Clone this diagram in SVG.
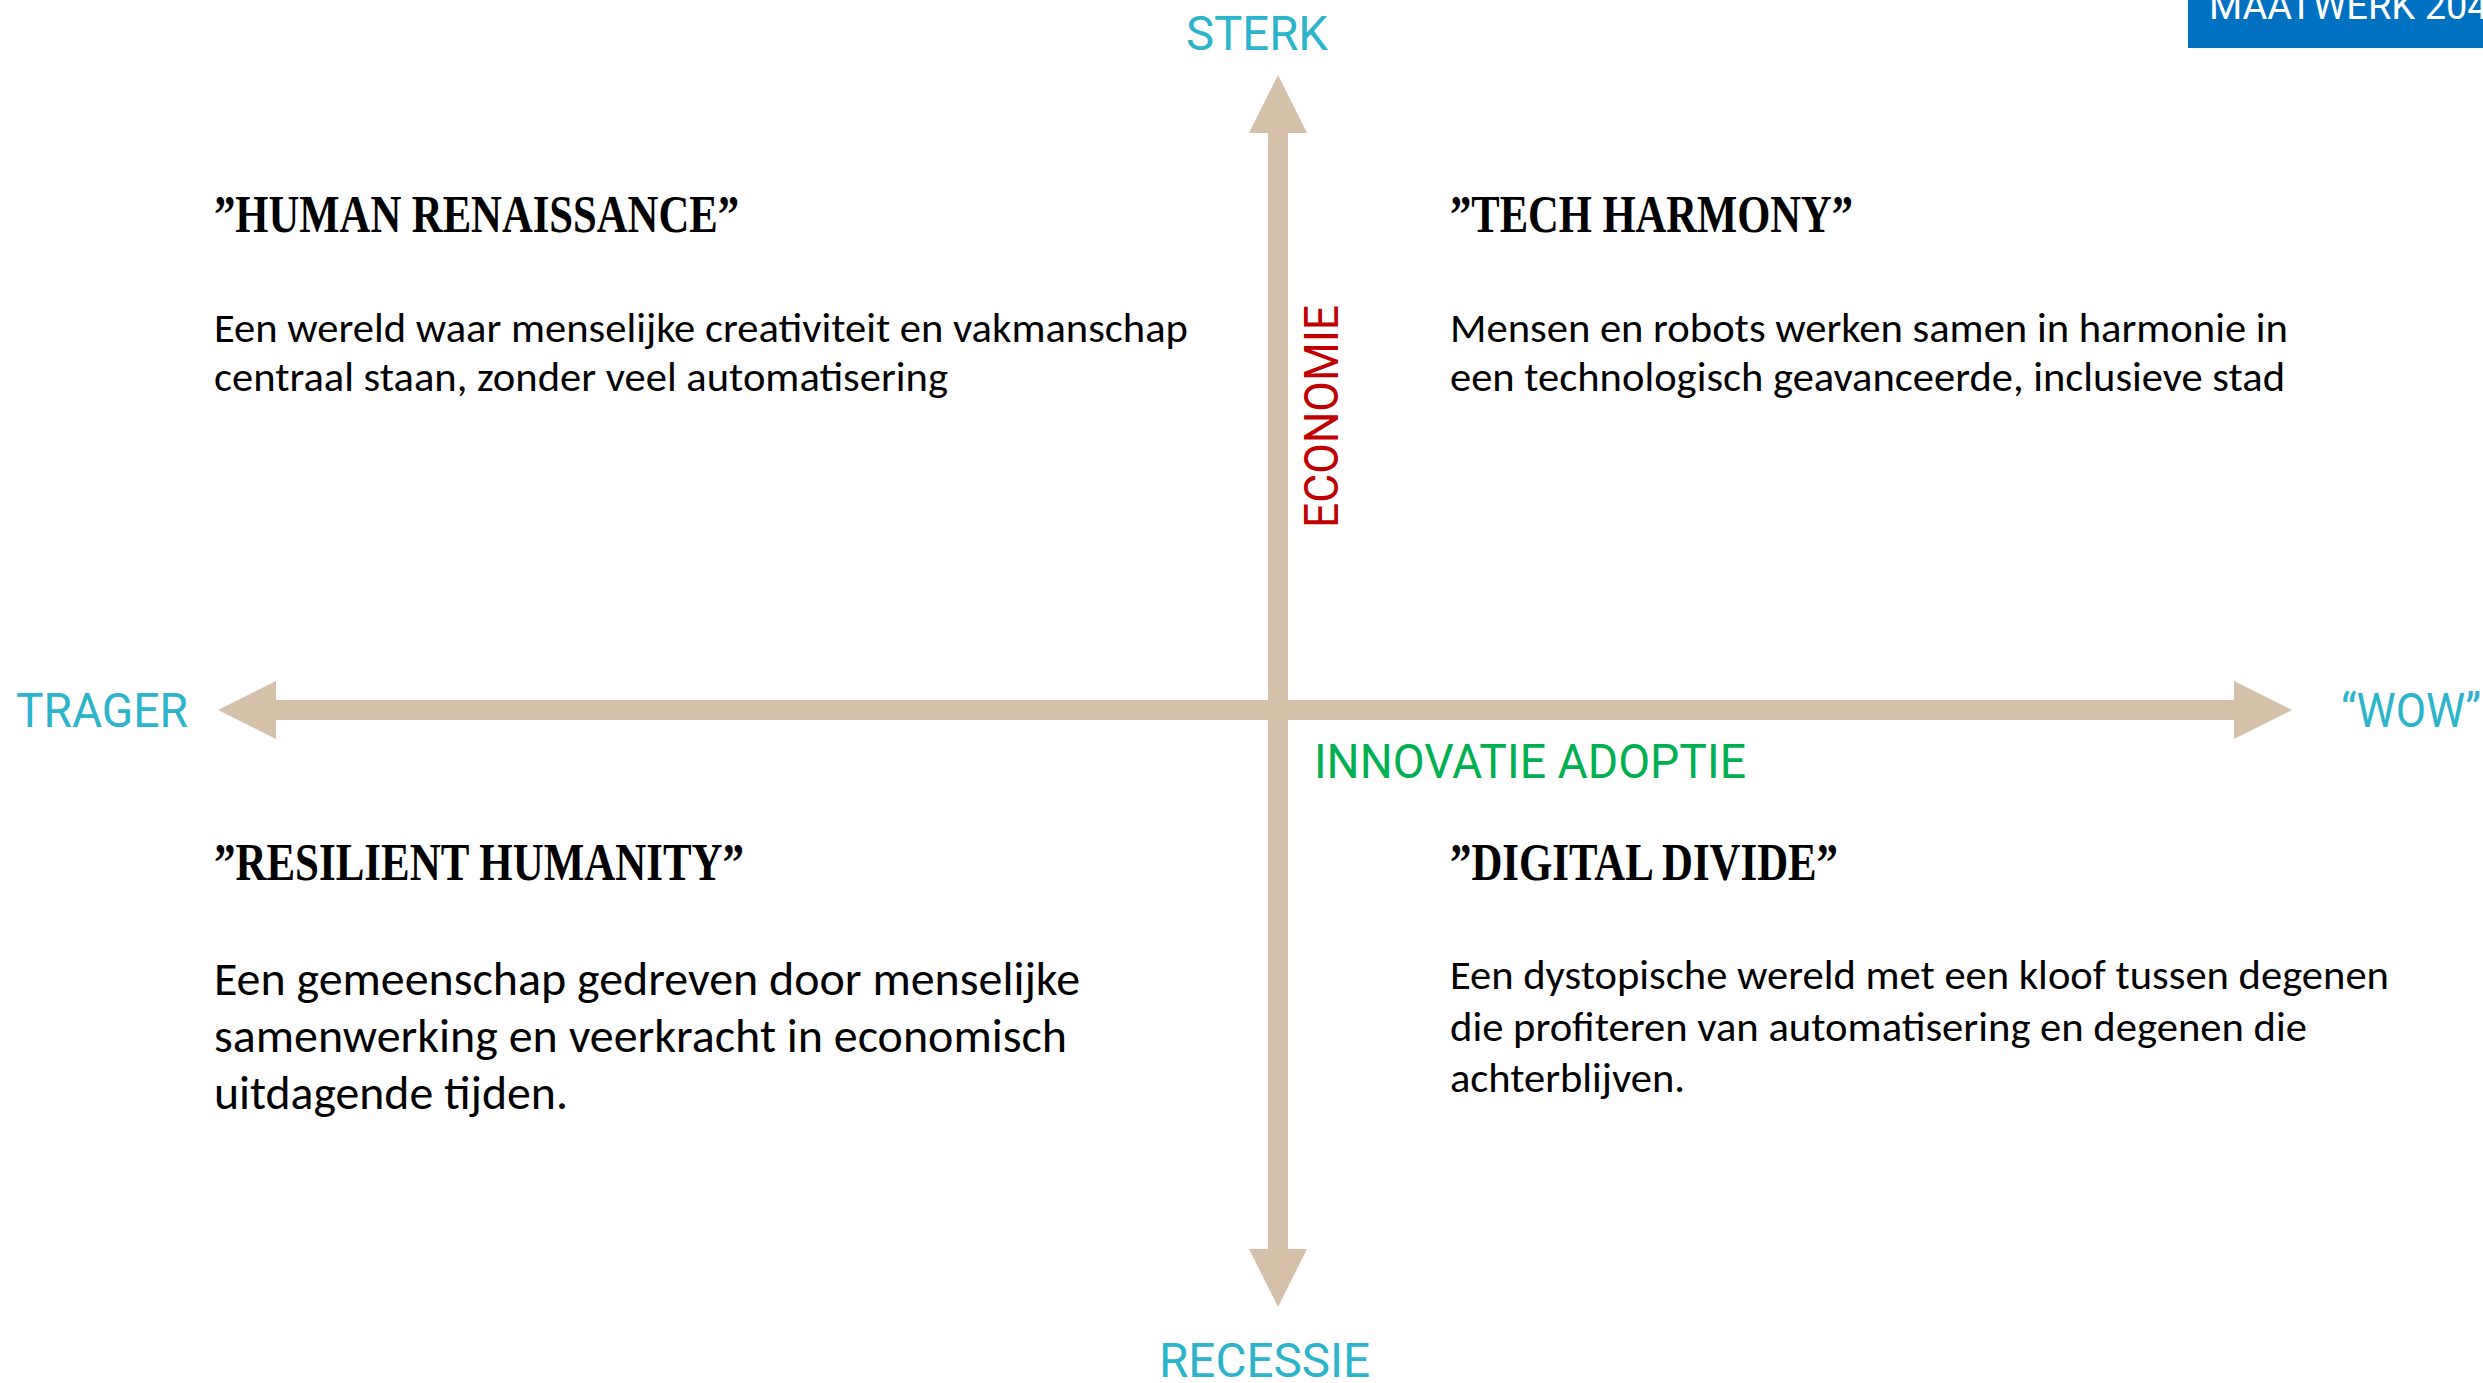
<svg xmlns="http://www.w3.org/2000/svg" width="2483" height="1383" viewBox="0 0 2483 1383">
<style>
.axis{font-family:Roboto,"DejaVu Sans",sans-serif;font-size:48px;fill:#2BB4CC}
.title{font-family:"Liberation Serif",serif;font-weight:bold;font-size:52px;fill:#000}
.body{font-family:Carlito,"Liberation Sans Narrow","Open Sans",sans-serif;font-size:42px;fill:#000}
.bodyL{font-family:Carlito,"Liberation Sans Narrow","Open Sans",sans-serif;font-size:48px;fill:#000}
.conn{stroke:#D5C1A9;stroke-width:20;fill:none}
</style>
<defs>
<marker id="head" markerUnits="userSpaceOnUse" markerWidth="58" markerHeight="58" refX="0" refY="29" orient="auto-start-reverse">
<path d="M0,0 L58,29 L0,58 Z" fill="#D5C1A9"/>
</marker>
</defs>
<rect width="2483" height="1383" fill="#fff"/>
<g id="connectors">
<line class="conn" x1="276" y1="710" x2="2234" y2="710" marker-start="url(#head)" marker-end="url(#head)"/>
<line class="conn" x1="1278" y1="1249" x2="1278" y2="133" marker-start="url(#head)" marker-end="url(#head)"/>
</g>
<g id="badge">
<rect x="2188" y="0" width="300" height="48" fill="#0070C0"/>
<text x="2209" y="19" style="font-family:Roboto,'DejaVu Sans',sans-serif;font-size:38px;fill:#fff">MAATWERK 2040</text>
</g>
<g id="axis-labels">
<text class="axis" x="1186" y="50" textLength="142" lengthAdjust="spacingAndGlyphs">STERK</text>
<text class="axis" x="16" y="727" textLength="172" lengthAdjust="spacingAndGlyphs">TRAGER</text>
<text class="axis" x="2341" y="727" textLength="140" lengthAdjust="spacingAndGlyphs">“WOW”</text>
<text class="axis" x="1159" y="1377" textLength="211" lengthAdjust="spacingAndGlyphs">RECESSIE</text>
<text x="1314" y="778" textLength="432" lengthAdjust="spacingAndGlyphs" style="font-family:Roboto,'DejaVu Sans',sans-serif;font-size:48px;fill:#00B050">INNOVATIE ADOPTIE</text>
<text transform="translate(1338,528) rotate(-90)" x="0" y="0" textLength="223" lengthAdjust="spacingAndGlyphs" style="font-family:Roboto,'DejaVu Sans',sans-serif;font-size:48px;fill:#C00000">ECONOMIE</text>
</g>
<g id="human-renaissance">
<text class="title" x="214" y="232" textLength="525" lengthAdjust="spacingAndGlyphs">”HUMAN RENAISSANCE”</text>
<text class="body" x="214" y="342" textLength="974" lengthAdjust="spacingAndGlyphs">Een wereld waar menselijke creativiteit en vakmanschap</text>
<text class="body" x="214" y="391" textLength="734" lengthAdjust="spacingAndGlyphs">centraal staan, zonder veel automatisering</text>
</g>
<g id="tech-harmony">
<text class="title" x="1450" y="232" textLength="403" lengthAdjust="spacingAndGlyphs">”TECH HARMONY”</text>
<text class="body" x="1450" y="342" textLength="838" lengthAdjust="spacingAndGlyphs">Mensen en robots werken samen in harmonie in</text>
<text class="body" x="1450" y="391" textLength="835" lengthAdjust="spacingAndGlyphs">een technologisch geavanceerde, inclusieve stad</text>
</g>
<g id="resilient-humanity">
<text class="title" x="214" y="880" textLength="530" lengthAdjust="spacingAndGlyphs">”RESILIENT HUMANITY”</text>
<text class="bodyL" x="214" y="995" textLength="866" lengthAdjust="spacingAndGlyphs">Een gemeenschap gedreven door menselijke</text>
<text class="bodyL" x="214" y="1052" textLength="853" lengthAdjust="spacingAndGlyphs">samenwerking en veerkracht in economisch</text>
<text class="bodyL" x="214" y="1109" textLength="354" lengthAdjust="spacingAndGlyphs">uitdagende tijden.</text>
</g>
<g id="digital-divide">
<text class="title" x="1450" y="880" textLength="388" lengthAdjust="spacingAndGlyphs">”DIGITAL DIVIDE”</text>
<text class="body" x="1450" y="989" textLength="939" lengthAdjust="spacingAndGlyphs">Een dystopische wereld met een kloof tussen degenen</text>
<text class="body" x="1450" y="1041" textLength="857" lengthAdjust="spacingAndGlyphs">die profiteren van automatisering en degenen die</text>
<text class="body" x="1450" y="1092" textLength="235" lengthAdjust="spacingAndGlyphs">achterblijven.</text>
</g>
</svg>
